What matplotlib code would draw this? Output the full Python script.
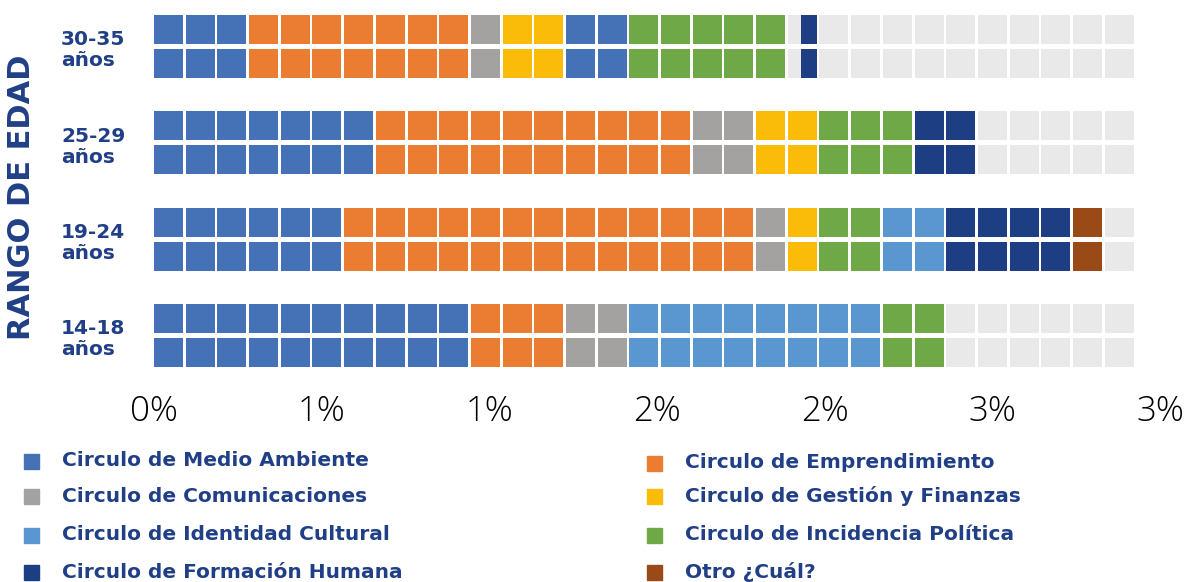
import matplotlib.pyplot as plt
from matplotlib.patches import Rectangle
from matplotlib.transforms import blended_transform_factory

# age groups, bottom to top
groups = ['14-18\naños', '19-24\naños', '25-29\naños', '30-35\naños']

# cells per category, in the order they appear from left to right
seg_1418 = [('ma', 10), ('emp', 3), ('com', 2), ('ide', 8), ('inc', 2)]
seg_1924 = [('ma', 6), ('emp', 13), ('com', 1), ('ges', 1), ('inc', 2), ('ide', 2), ('for', 4), ('otr', 1)]
seg_2529 = [('ma', 7), ('emp', 10), ('com', 2), ('ges', 2), ('inc', 3), ('for', 2)]
seg_3035 = [('ma', 3), ('emp', 7), ('com', 1), ('ges', 2), ('ma', 2), ('inc', 5), (None, 0.42), ('for', 0.5)]
segments = [seg_1418, seg_1924, seg_2529, seg_3035]

n_cells = 31
pct_per_cell = 0.0945   # percent represented by one square

keys = ['ma', 'emp', 'com', 'ges', 'ide', 'inc', 'for', 'otr']
names = ['Circulo de Medio Ambiente', 'Circulo de Emprendimiento',
         'Circulo de Comunicaciones', 'Circulo de Gestión y Finanzas',
         'Circulo de Identidad Cultural', 'Circulo de Incidencia Política',
         'Circulo de Formación Humana', 'Otro ¿Cuál?']
colors = ['#4571B6', '#EB7D33', '#A3A2A0', '#FABB09',
          '#5A96CF', '#6FA847', '#1E3E84', '#9A4A17']
cmap = dict(zip(keys, colors))
bg_color = '#E9E9E9'
navy = '#203F86'

ticks = [0, 0.5, 1.0, 1.5, 2.0, 2.5, 3.0]
tick_labels = ['0%', '1%', '1%', '2%', '2%', '3%', '3%']

W, H = 1190, 582
fig = plt.figure(figsize=(W / 100, H / 100), dpi=100)
ax = fig.add_axes([154 / W, 1 - 383.7 / H, 1006 / W, 385.4 / H])

cw = pct_per_cell
fill = 0.915
row_off = 0.1765
row_h = 0.301

for g, segs in enumerate(segments):
    for y in (g + row_off, g - row_off):
        ax.barh([y] * n_cells, [cw * fill] * n_cells,
                left=[k * cw for k in range(n_cells)],
                height=row_h, color=bg_color, align='center')
        pos = 0.0
        for key, n in segs:
            if key is not None:
                full = int(n)
                frac = n - full
                lefts = [(pos + k) * cw for k in range(full)]
                widths = [cw * fill] * full
                if frac > 0:
                    lefts.append((pos + full) * cw)
                    widths.append(frac * cw)
                ax.barh([y] * len(lefts), widths, left=lefts, height=row_h,
                        color=cmap[key], align='center')
            pos += n

# group labels: x in figure fraction, y in data
tr = blended_transform_factory(fig.transFigure, ax.transData)
for g, lab in enumerate(groups):
    ax.text(61 / W, g - 0.04, lab, transform=tr, ha='left', va='center',
            fontsize=14.5, fontweight='bold', color=navy, linespacing=1.12)

ax.set_xlim(0, 3.0)
ax.set_ylim(-0.5, 3.5)
ax.set_xticks(ticks)
ax.set_xticklabels(tick_labels, fontsize=25, fontfamily='Open Sans',
                   fontweight='light', color='black')
ax.set_yticks([])
ax.tick_params(axis='x', length=0, pad=8)
for s in ax.spines.values():
    s.set_visible(False)

fig.text(22 / W, 1 - 197 / H, 'RANGO DE EDAD', rotation=90, ha='center', va='center',
         fontsize=22, fontweight='bold', color=navy)

# legend, two columns
leg_pos = [(24, 461), (647, 463), (24, 496), (647, 496),
           (24, 535), (647, 535), (24, 572), (647, 572)]
for (x, y), name, c in zip(leg_pos, names, colors):
    fig.add_artist(Rectangle((x / W, 1 - (y + 7.5) / H), 15 / W, 15 / H,
                             transform=fig.transFigure, color=c))
    fig.text((x + 38) / W, 1 - y / H, name, ha='left', va='center',
             fontsize=14.5, fontweight='bold', color=navy)

fig.savefig('out.png', dpi=100)
